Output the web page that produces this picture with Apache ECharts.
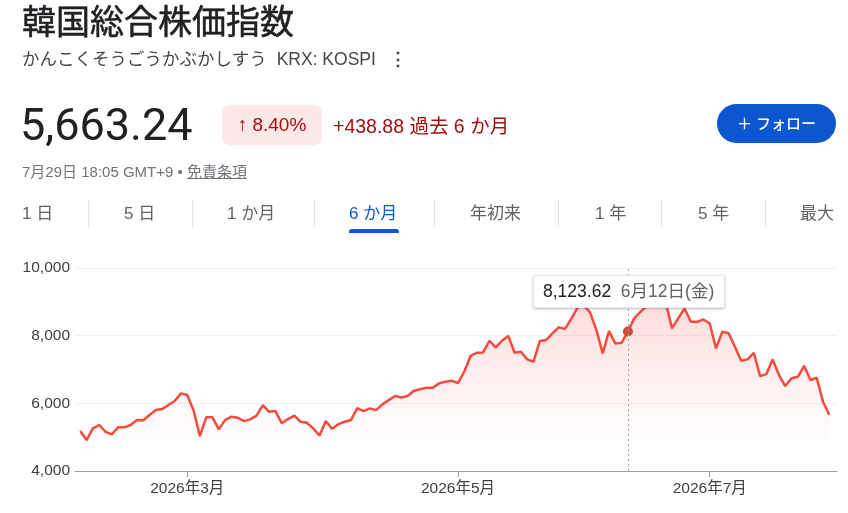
<!DOCTYPE html>
<html>
<head>
<meta charset="utf-8">
<script src="https://cdn.jsdelivr.net/npm/echarts@6/dist/echarts.min.js"></script>
<style>
  html,body{margin:0;padding:0;background:#fff;}
  body{width:848px;height:513px;position:relative;overflow:hidden;font-family:"Liberation Sans",Arial,"Noto Sans CJK JP",sans-serif;color:#202124;}
  #chart{position:absolute;left:0;top:0;width:848px;height:513px;}
  .abs{position:absolute;white-space:nowrap;}
  .tab{position:absolute;top:201px;height:26px;line-height:26px;font-size:17px;color:#5f6368;}
  .sep{position:absolute;top:200px;width:1px;height:27px;background:#e3e3e3;}
</style>
</head>
<body>
<div id="chart"></div>
<div class="abs" style="left:22px;top:2px;font-size:34px;line-height:40px;color:#202124;font-weight:400;-webkit-text-stroke:0.5px #202124;">韓国総合株価指数</div>
<div class="abs" style="left:22px;top:47px;font-size:17.5px;line-height:24px;color:#474747;">かんこくそうごうかぶかしすう<span style="margin-left:10px;">KRX: KOSPI</span><span style="margin-left:13px;font-weight:bold;color:#444;">⋮</span></div>
<div class="abs" style="left:20px;top:102px;font-size:45px;line-height:45px;color:#202124;font-family:Roboto,sans-serif;">5,663.24</div>
<div class="abs" style="left:222px;top:105px;width:100px;height:40px;border-radius:8px;background:#fce8e6;color:#a50e0e;font-size:19px;line-height:40px;text-align:center;">↑ 8.40%</div>
<div class="abs" style="left:333px;top:112px;font-size:19.5px;line-height:28px;color:#a50e0e;">+438.88 過去 6 か月</div>
<div class="abs" style="left:717px;top:104px;width:119px;height:39px;border-radius:20px;background:#0b57d0;color:#fff;font-size:15px;line-height:39px;text-align:center;font-weight:500;">＋ フォロー</div>
<div class="abs" style="left:22px;top:162px;font-size:15px;line-height:20px;color:#70757a;">7月29日 18:05 GMT+9 • <span style="text-decoration:underline;">免責条項</span></div>

<div class="tab" style="left:22px;">1 日</div>
<div class="tab" style="left:124px;">5 日</div>
<div class="tab" style="left:227px;">1 か月</div>
<div class="tab" style="left:349px;color:#0b57d0;">6 か月</div>
<div class="tab" style="left:470px;">年初来</div>
<div class="tab" style="left:595px;">1 年</div>
<div class="tab" style="left:698px;">5 年</div>
<div class="tab" style="left:800px;">最大</div>
<div class="sep" style="left:88px;"></div>
<div class="sep" style="left:192px;"></div>
<div class="sep" style="left:314px;"></div>
<div class="sep" style="left:434px;"></div>
<div class="sep" style="left:558px;"></div>
<div class="sep" style="left:661px;"></div>
<div class="sep" style="left:765px;"></div>
<div class="abs" style="left:349px;top:229px;width:50px;height:4px;background:#0b57d0;border-radius:3px 3px 0 0;"></div>

<script>
const dates = [
"2026-02-02","2026-02-03","2026-02-04","2026-02-05","2026-02-06","2026-02-09","2026-02-10","2026-02-11","2026-02-12","2026-02-13",
"2026-02-19","2026-02-20","2026-02-23","2026-02-24","2026-02-25","2026-02-26","2026-02-27","2026-03-03","2026-03-04","2026-03-05",
"2026-03-06","2026-03-09","2026-03-10","2026-03-11","2026-03-12","2026-03-13","2026-03-16","2026-03-17","2026-03-18","2026-03-19",
"2026-03-20","2026-03-23","2026-03-24","2026-03-25","2026-03-26","2026-03-27","2026-03-30","2026-03-31","2026-04-01","2026-04-02",
"2026-04-03","2026-04-06","2026-04-07","2026-04-08","2026-04-09","2026-04-10","2026-04-13","2026-04-14","2026-04-15","2026-04-16",
"2026-04-17","2026-04-20","2026-04-21","2026-04-22","2026-04-23","2026-04-24","2026-04-27","2026-04-28","2026-04-29","2026-04-30",
"2026-05-01","2026-05-04","2026-05-06","2026-05-07","2026-05-08","2026-05-11","2026-05-12","2026-05-13","2026-05-14","2026-05-15",
"2026-05-18","2026-05-19","2026-05-20","2026-05-21","2026-05-22","2026-05-26","2026-05-27","2026-05-28","2026-05-29","2026-06-01",
"2026-06-02","2026-06-04","2026-06-05","2026-06-08","2026-06-09","2026-06-10","2026-06-11","2026-06-12","2026-06-15","2026-06-16",
"2026-06-17","2026-06-18","2026-06-19","2026-06-22","2026-06-23","2026-06-24","2026-06-25","2026-06-26","2026-06-29","2026-06-30",
"2026-07-01","2026-07-02","2026-07-03","2026-07-06","2026-07-07","2026-07-08","2026-07-09","2026-07-10","2026-07-13","2026-07-14",
"2026-07-15","2026-07-16","2026-07-17","2026-07-20","2026-07-21","2026-07-22","2026-07-23","2026-07-24","2026-07-27","2026-07-28"
];

const values = [
5180,4915,5260,5360,5160,5085,5290,5290,5360,5505,
5500,5655,5800,5830,5950,6070,6295,6245,5790,5030,
5585,5585,5230,5505,5605,5575,5475,5525,5635,5950,
5750,5770,5410,5535,5635,5455,5425,5260,5050,5480,
5250,5385,5455,5505,5860,5770,5850,5800,5970,6095,
6215,6175,6215,6370,6415,6460,6460,6590,6640,6665,
6600,6935,7400,7495,7505,7850,7655,7850,7990,7495,
7525,7300,7230,7840,7870,8065,8245,8200,8495,8830,
8900,8680,8165,7475,8135,7770,7790,8123.62,8510,8705,
8880,9050,9120,9000,8215,8510,8805,8410,8410,8480,
8360,7625,8115,8070,7670,7260,7300,7495,6805,6865,
7300,6835,6510,6740,6785,7110,6690,6755,6045,5663.24
];

const tickDates = ["2026-03-03","2026-05-01","2026-07-01"];
const tickLabels = ["2026年3月","2026年5月","2026年7月"];
const yMin = 4000, yMax = 10000, yStep = 2000;
const tipDate = "2026-06-12";
const weekdays = ["日","月","火","水","木","金","土"];

const tickIdx = tickDates.map(d => dates.indexOf(d));
const tipIdx = dates.indexOf(tipDate);
const seriesData = values.map((v, i) => [i, v]);

const FONT = '"Liberation Sans", Arial, "Noto Sans CJK JP", sans-serif';
const lineColor = '#e0443a';
const chart = echarts.init(document.getElementById('chart'), null, {renderer: 'canvas'});

function fmtDate(i) {
  const p = dates[i].split('-').map(Number);
  const d = new Date(Date.UTC(p[0], p[1] - 1, p[2]));
  return p[1] + '月' + p[2] + '日(' + weekdays[d.getUTCDay()] + ')';
}

chart.setOption({
  animation: false,
  grid: {left: 75, right: 11, top: 268, bottom: 42},
  tooltip: {
    trigger: 'axis',
    triggerOn: 'none',
    alwaysShowContent: true,
    backgroundColor: '#fff',
    borderColor: '#e6e6e6',
    borderWidth: 1,
    borderRadius: 3,
    padding: [5, 10, 5, 9],
    extraCssText: 'box-shadow:0 1px 3px rgba(0,0,0,0.25);line-height:21px;',
    textStyle: {fontSize: 17.5, color: '#202124', fontFamily: FONT},
    position: function (point) { return [point[0] - 95, 275]; },
    axisPointer: {
      type: 'line',
      snap: true,
      label: {show: false},
      lineStyle: {color: '#a0a4a8', width: 1, type: [2, 3]}
    },
    formatter: function (params) {
      const p = params[0];
      const v = p.value[1].toLocaleString('en-US', {minimumFractionDigits: 2, maximumFractionDigits: 2});
      return '<span style="color:#202124">' + v + '</span>&nbsp;&nbsp;<span style="color:#5f6368">' + fmtDate(p.dataIndex) + '</span>';
    }
  },
  xAxis: {
    type: 'value',
    min: -0.84,
    max: 120.22,
    splitLine: {show: false},
    axisLine: {show: true, lineStyle: {color: '#9aa0a6', width: 1}},
    axisTick: {show: true, customValues: tickIdx, length: 6, lineStyle: {color: '#9aa0a6'}},
    axisLabel: {
      customValues: tickIdx,
      margin: 10,
      fontSize: 15.5,
      color: '#3c4043',
      fontFamily: FONT,
      formatter: function (v) {
        const k = tickIdx.indexOf(Math.round(v));
        return k >= 0 ? tickLabels[k] : '';
      }
    }
  },
  yAxis: {
    type: 'value',
    min: yMin,
    max: yMax,
    interval: yStep,
    axisLine: {show: false},
    axisTick: {show: false},
    splitLine: {lineStyle: {color: '#f1f1f1', width: 1}},
    axisLabel: {
      margin: 5,
      fontSize: 15.5,
      color: '#3c4043',
      fontFamily: FONT,
      formatter: v => v.toLocaleString('en-US')
    }
  },
  series: [{
    type: 'line',
    data: seriesData,
    showSymbol: false,
    symbol: 'circle',
    symbolSize: 10,
    lineStyle: {color: lineColor, width: 2.5},
    itemStyle: {color: lineColor},
    emphasis: {scale: false, lineStyle: {width: 2.5}},
    areaStyle: {
      color: new echarts.graphic.LinearGradient(0, 0, 0, 1, [
        {offset: 0, color: 'rgba(224,68,58,0.28)'},
        {offset: 0.7, color: 'rgba(224,68,58,0.04)'},
        {offset: 1, color: 'rgba(224,68,58,0)'}
      ])
    }
  }]
});

chart.dispatchAction({type: 'showTip', seriesIndex: 0, dataIndex: tipIdx});
</script>
</body>
</html>
